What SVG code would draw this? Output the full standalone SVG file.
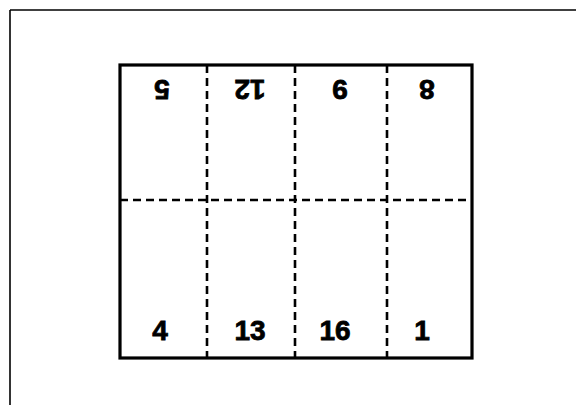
<svg xmlns="http://www.w3.org/2000/svg" width="576" height="405" viewBox="0 0 576 405">
<style>
.frame{stroke:#000;stroke-width:1.6;fill:none}
.solid{stroke:#000;stroke-width:3.2;fill:none}
.dash{stroke:#000;stroke-width:2.6;stroke-dasharray:8 5;fill:none}
.num{font-family:"Liberation Sans",Arial,sans-serif;font-weight:bold;font-size:28px;fill:#000;stroke:#000;stroke-width:0.8;text-anchor:middle}
</style>
<rect width="576" height="405" fill="#fff"/>
<g id="frame">
<line class="frame" x1="10" y1="10" x2="576" y2="10"/>
<line class="frame" x1="10" y1="10" x2="10" y2="405"/>
</g>
<g id="sheet">
<rect class="solid" x="120" y="65" width="352" height="293"/>
</g>
<g id="folds">
<line class="dash" x1="207" y1="65" x2="207" y2="358"/>
<line class="dash" x1="295" y1="65" x2="295" y2="358"/>
<line class="dash" x1="387" y1="65" x2="387" y2="358"/>
<line class="dash" x1="120" y1="200" x2="472" y2="200"/>
</g>
<g id="p5"><text class="num" transform="translate(162,80) rotate(180)">5</text></g>
<g id="p12"><text class="num" transform="translate(250,80) rotate(180)">12</text></g>
<g id="p9"><text class="num" transform="translate(340,80) rotate(180)">9</text></g>
<g id="p8"><text class="num" transform="translate(427,80) rotate(180)">8</text></g>
<g id="p4"><text class="num" x="160" y="340">4</text></g>
<g id="p13"><text class="num" x="250" y="340">13</text></g>
<g id="p16"><text class="num" x="335" y="340">16</text></g>
<g id="p1"><text class="num" x="422" y="340">1</text></g>
</svg>
